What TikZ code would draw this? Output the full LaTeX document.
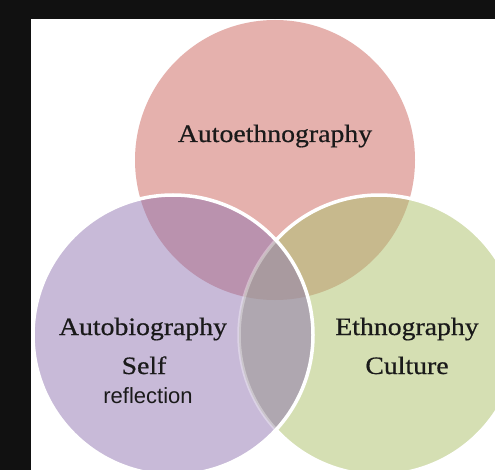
\documentclass[tikz,border=0pt]{standalone}
\usepackage{fontspec}
\usetikzlibrary{calc}
\setmainfont{Liberation Serif}
\newfontfamily\camb[FakeStretch=1.11,FakeBold=0.6]{Liberation Serif}
\newfontfamily\arialf{Liberation Sans}
\definecolor{bgdark}{HTML}{111111}
\definecolor{redc}{HTML}{E5B1AD}
\definecolor{purc}{HTML}{C8BAD8}
\definecolor{grnc}{HTML}{D5DFB3}
\definecolor{rpc}{HTML}{BA92AE}
\definecolor{rgc}{HTML}{C7B98D}
\definecolor{pgc}{HTML}{AFA7B0}
\definecolor{rpgc}{HTML}{A99A9F}
\definecolor{txtc}{HTML}{1A1A1A}
\tikzset{
  lbl/.style={anchor=base, text=txtc, inner sep=0pt, font=\camb\fontsize{25}{30}\selectfont},
  lblsans/.style={anchor=base, text=txtc, inner sep=0pt, font=\arialf\fontsize{22}{26}\selectfont},
  rim/.style={draw=white, line width=3.5pt},
}
\begin{document}
\begin{tikzpicture}[x=1pt,y=-1pt]
\useasboundingbox (0,0) rectangle (495,470);
\clip (0,0) rectangle (495,470);
\fill[bgdark] (0,0) rectangle (495,470);
\fill[white] (31,19) rectangle (500,480);
\coordinate (R) at (275,160);
\coordinate (P) at (173,335);
\coordinate (G) at (379,335);
% single circles
\fill[redc] (R) circle [radius=140pt];
\fill[grnc] (G) circle [radius=140pt];
\fill[purc] (P) circle [radius=140pt];
% pairwise overlaps
\begin{scope}
  \clip (R) circle [radius=140pt];
  \fill[rpc] (P) circle [radius=140pt];
  \fill[rgc] (G) circle [radius=140pt];
\end{scope}
\begin{scope}
  \clip (P) circle [radius=140pt];
  \fill[pgc] (G) circle [radius=140pt];
  \clip (G) circle [radius=140pt];
  \fill[rpgc] (R) circle [radius=140pt];
\end{scope}
% outlines
\draw[rim] ($(G)+(137.4:140pt)$) arc [start angle=137.4, end angle=-137.4, radius=140pt];
\draw[rim, draw opacity=0.35] ($(G)+(137.4:140pt)$) arc [start angle=137.4, end angle=222.6, radius=140pt];
\draw[rim] (P) circle [radius=140pt];
% labels
\node[lbl] (auto) at (275,142) {Autoethnography};
\node[lbl] (autobio) at (143,335) {Autobiography};
\node[lbl] (self) at (144,374) {Self};
\node[lblsans] (refl) at (148,403) {reflection};
\node[lbl] (ethno) at (407,335) {Ethnography};
\node[lbl] (cult) at (407,374) {Culture};
\end{tikzpicture}
\end{document}
